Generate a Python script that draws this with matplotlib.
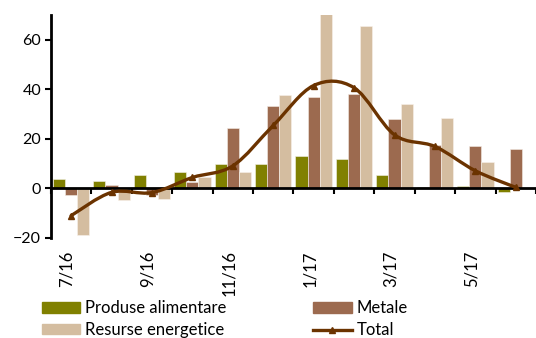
import matplotlib.pyplot as plt
import numpy as np
from matplotlib.path import Path
from matplotlib.patches import PathPatch
from matplotlib.lines import Line2D
from matplotlib.patches import Patch

plt.rcParams['font.family'] = ['Lato', 'DejaVu Sans']

months = ['7/16', '8/16', '9/16', '10/16', '11/16', '12/16',
          '1/17', '2/17', '3/17', '4/17', '5/17', '6/17']
alimentare = [3.6, 2.9, 5.4, 6.8, 10.0, 9.8, 13.1, 11.9, 5.4, 0.7, 0.8, -1.6]
metale = [-2.7, 1.3, -2.8, 2.4, 24.5, 33.1, 36.9, 37.9, 27.8, 17.7, 17.0, 15.7]
energetice = [-19.0, -4.7, -4.3, 4.7, 6.7, 37.8, 71.0, 65.6, 33.9, 28.5, 10.7, 0.0]
total = [-11.0, -1.6, -1.7, 4.4, 9.1, 25.4, 41.5, 40.6, 21.6, 16.9, 7.1, 0.4]

c_green = '#808000'
c_brown = '#9c6a4f'
c_tan = '#d4bda0'
c_line = '#6b3300'

fig = plt.figure(figsize=(5.36, 3.38), dpi=100)
ax = fig.add_axes([0.095, 0.296, 0.905, 0.66])

x = np.arange(len(months))
w = 0.3
ax.bar(x - w, alimentare, w, color=c_green, edgecolor='#f4f2e8', linewidth=0.4, zorder=2)
ax.bar(x, metale, w, color=c_brown, edgecolor='#f4ece6', linewidth=0.4, zorder=2)
ax.bar(x + w, energetice, w, color=c_tan, edgecolor='#f8f2ea', linewidth=0.4, zorder=2)

# smoothed total line (Excel-like catmull-rom bezier)
pts = np.column_stack([x, total]).astype(float)
verts = [pts[0]]
codes = [Path.MOVETO]
n = len(pts)
for i in range(n - 1):
    p0 = pts[i - 1] if i > 0 else pts[i]
    p1 = pts[i]
    p2 = pts[i + 1]
    p3 = pts[i + 2] if i + 2 < n else pts[i + 1]
    verts += [p1 + (p2 - p0) / 6, p2 - (p3 - p1) / 6, p2]
    codes += [Path.CURVE4] * 3
ax.add_patch(PathPatch(Path(verts, codes), facecolor='none', edgecolor=c_line,
                       linewidth=2.4, zorder=4, capstyle='round'))
ax.plot(x, total, linestyle='none', marker='^', markersize=5, color=c_line, zorder=5)

ax.set_xlim(-0.5, len(months) - 0.5)
ax.set_ylim(-20, 70)
ax.set_yticks([-20, 0, 20, 40, 60])
ax.tick_params(axis='y', labelsize=11.5, width=1.5, length=4, direction='out', pad=3)

ax.spines['top'].set_visible(False)
ax.spines['right'].set_visible(False)
ax.spines['left'].set_linewidth(2)
ax.spines['bottom'].set_position(('data', 0))
ax.spines['bottom'].set_linewidth(2)
ax.spines['bottom'].set_zorder(3)
ax.set_xticks(np.arange(len(months) + 1) - 0.5)
ax.set_xticklabels([])
ax.tick_params(axis='x', width=1.5, length=4, direction='out')

for i, m in enumerate(months):
    if i % 2 == 0:
        ax.text(i - 0.1, -0.055, m, transform=ax.get_xaxis_transform(), rotation=90,
                ha='center', va='top', fontsize=12)

handles = [Patch(color=c_green), Patch(color=c_tan), Patch(color=c_brown),
           Line2D([], [], color=c_line, linewidth=2.4, marker='^', markersize=5)]
labels = ['Produse alimentare', 'Resurse energetice', 'Metale', 'Total']
fig.legend(handles, labels, ncol=2, loc='lower left', bbox_to_anchor=(0.05, -0.045),
           frameon=False, fontsize=12, handlelength=2.3, handleheight=0.55,
           handletextpad=0.3, columnspacing=5.2, labelspacing=0.35)

fig.savefig('out.png', dpi=100)
